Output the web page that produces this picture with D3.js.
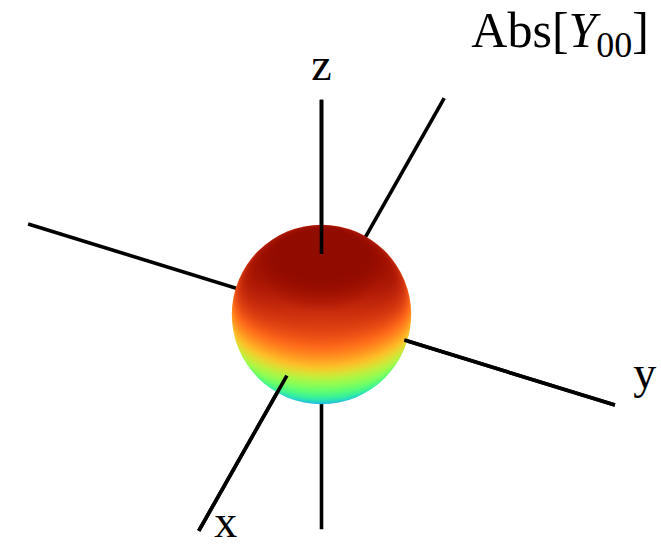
<!DOCTYPE html>
<html><head><meta charset="utf-8">
<script src="https://cdn.jsdelivr.net/npm/d3@7"></script>
<style>html,body{margin:0;padding:0;background:#fff}svg{display:block}</style>
</head><body>
<svg id="chart" width="661" height="548"></svg>
<script>
// |Y_0^0| = 1/(2*sqrt(pi)) : the surface is a sphere of this radius
const sphereRadius = [1 / (2 * Math.sqrt(Math.PI))];
// coordinate axes: names, unit directions, extent along each
const axisNames = ["x", "y", "z"];
const axisDirs = [[1, 0, 0], [0, 1, 0], [0, 0, 1]];
const axisExtent = [-1, 1];
// label offsets (px) from the positive axis ends
const labelOffsets = [[27, 6], [30, -17], [0, -20]];
// title pieces: plain, italic, subscript, plain
const titleParts = ["Abs[", "Y", "00", "]"];

const W = 661, H = 548;
const cx = 321.5, cy = 314.5, unitPx = 318;
const view = {lon: 22.7, lat: 47.5};
const r0 = sphereRadius[0];
const Rpx = r0 * unitPx;

const svg = d3.select("#chart");
svg.append("rect").attr("width", W).attr("height", H).attr("fill", "#fff");

const proj = d3.geoOrthographic()
  .rotate([-view.lon, -view.lat, 0])
  .scale(Rpx)
  .translate([cx, cy]);

// colour from normalised height on the surface (0 = bottom, 1 = top)
const color = d3.scaleSequential(d3.interpolateTurbo).domain([0, 1]).clamp(true);

// project an arbitrary 3D point (orthographic, linear in radius)
function project3D(v) {
  const r = Math.hypot(v[0], v[1], v[2]);
  if (r === 0) return [cx, cy];
  const lon = Math.atan2(v[1], v[0]) * 180 / Math.PI;
  const lat = Math.asin(v[2] / r) * 180 / Math.PI;
  const p = proj([lon, lat]);
  return [cx + (p[0] - cx) * r / r0, cy + (p[1] - cy) * r / r0];
}
const rad = Math.PI / 180;
const viewDir = [
  Math.cos(view.lat * rad) * Math.cos(view.lon * rad),
  Math.cos(view.lat * rad) * Math.sin(view.lon * rad),
  Math.sin(view.lat * rad)
];
const scaleV = (d, s) => d.map(c => c * s);
const dot = (a, b) => a[0] * b[0] + a[1] * b[1] + a[2] * b[2];

const axisStyle = sel => sel.attr("stroke", "#000").attr("stroke-width", 3.6).attr("fill", "none");

// full axis lines (the sphere covers their hidden parts)
const gBack = svg.append("g");
axisDirs.forEach(d => {
  const a = project3D(scaleV(d, axisExtent[0]));
  const b = project3D(scaleV(d, axisExtent[1]));
  gBack.append("line").attr("x1", a[0]).attr("y1", a[1]).attr("x2", b[0]).attr("y2", b[1]).call(axisStyle);
});

// sphere surface, shaded per pixel from the inverted projection
const pad = 2;
const x0 = Math.floor(cx - Rpx - pad), y0 = Math.floor(cy - Rpx - pad);
const size = Math.ceil(2 * (Rpx + pad)) + 2;
const canvas = document.createElement("canvas");
canvas.width = size; canvas.height = size;
const ctx = canvas.getContext("2d");
const img = ctx.createImageData(size, size);
for (let j = 0; j < size; j++) {
  for (let i = 0; i < size; i++) {
    let sx = (x0 + i + 0.5 - cx) / Rpx, sy = (y0 + j + 0.5 - cy) / Rpx;
    const d = Math.hypot(sx, sy);
    if (d > 0.999) { sx *= 0.999 / d; sy *= 0.999 / d; }
    const ll = proj.invert([cx + sx * Rpx, cy + sy * Rpx]);
    const zn = Math.sin(ll[1] * rad);                          // height on unit sphere
    const nv = Math.sqrt(Math.max(0, 1 - sx * sx - sy * sy));  // facing the viewer
    // height colour, warmed a little on the front and brightened towards the rim
    const v = (zn + 1) / 2
      + 0.06 * Math.max(0, Math.sin(Math.PI * zn / 0.75)) * nv
      + (0.05 + 0.15 * sx * sx) * Math.pow(1 - nv, 0.6);
    const c = d3.rgb(color(v));
    const k = 4 * (j * size + i);
    img.data[k] = c.r; img.data[k + 1] = c.g; img.data[k + 2] = c.b; img.data[k + 3] = 255;
  }
}
ctx.putImageData(img, 0, 0);
svg.append("clipPath").attr("id", "disc")
  .append("circle").attr("cx", cx).attr("cy", cy).attr("r", Rpx);
svg.append("image").attr("x", x0).attr("y", y0).attr("width", size).attr("height", size)
  .attr("href", canvas.toDataURL()).attr("clip-path", "url(#disc)");

// axis segments in front of the sphere
const gFront = svg.append("g");
axisDirs.forEach(d => {
  [axisExtent[0], axisExtent[1]].forEach(e => {
    const dir = scaleV(d, Math.sign(e));
    if (dot(dir, viewDir) <= 0) return;
    const a = project3D(scaleV(dir, r0));
    const b = project3D(scaleV(d, e));
    gFront.append("line").attr("x1", a[0]).attr("y1", a[1]).attr("x2", b[0]).attr("y2", b[1]).call(axisStyle);
  });
});

// axis labels
axisNames.forEach((n, i) => {
  const p = project3D(scaleV(axisDirs[i], axisExtent[1]));
  svg.append("text").attr("x", p[0] + labelOffsets[i][0]).attr("y", p[1] + labelOffsets[i][1])
    .attr("text-anchor", "middle")
    .attr("font-family", "Liberation Serif, DejaVu Serif, serif")
    .attr("font-size", 46).text(n);
});

// title
const title = svg.append("text").attr("x", 649).attr("y", 47)
  .attr("text-anchor", "end")
  .attr("font-family", "Liberation Serif, DejaVu Serif, serif")
  .attr("font-size", 50);
title.append("tspan").text(titleParts[0]);
title.append("tspan").attr("font-style", "italic").text(titleParts[1]);
title.append("tspan").attr("font-size", 36).attr("dy", 10).text(titleParts[2]);
title.append("tspan").attr("dy", -10).text(titleParts[3]);
</script>
</body></html>
